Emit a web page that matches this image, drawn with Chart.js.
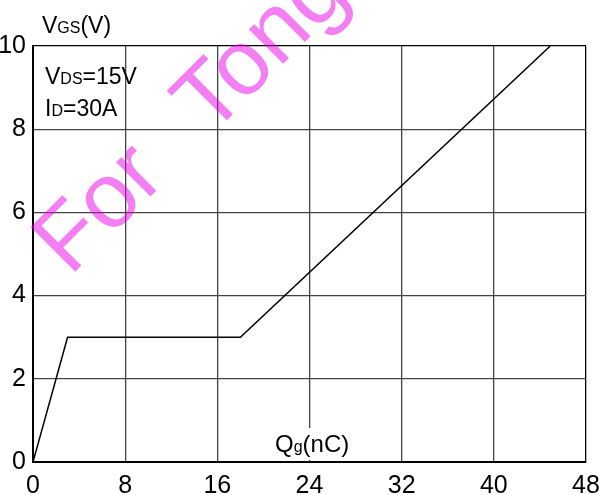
<!DOCTYPE html>
<html><head><meta charset="utf-8">
<script src="https://cdn.jsdelivr.net/npm/chart.js@4/dist/chart.umd.min.js"></script>
<style>html,body{margin:0;padding:0;background:#fff}</style>
</head><body>
<canvas id="c" width="599" height="495" style="width:599px;height:495px;display:block"></canvas>
<script>
const qg = [0, 3, 18, 44.9];
const vgs = [0, 3, 3, 10];
const xTicks = [0, 8, 16, 24, 32, 40, 48];
const yTicks = [0, 2, 4, 6, 8, 10];
const xTitle = ['Q', 'g', '(nC)'];
const yTitle = ['V', 'GS', '(V)'];
const note1 = ['V', 'DS', '=15V'];
const note2 = ['I', 'D', '=30A'];
const watermark = ['For', 'Tong'];

const TICKFONT = '"Liberation Sans Narrow","Liberation Sans",Arial,sans-serif';
const FONT = '"Liberation Sans",Arial,sans-serif';

function drawSub(ctx, parts, x, y, big, small) {
  ctx.font = big + 'px ' + FONT;
  ctx.fillText(parts[0], x, y);
  x += ctx.measureText(parts[0]).width;
  ctx.font = small + 'px ' + FONT;
  ctx.fillText(parts[1], x, y);
  x += ctx.measureText(parts[1]).width;
  ctx.font = big + 'px ' + FONT;
  ctx.fillText(parts[2], x, y);
  return x + ctx.measureText(parts[2]).width;
}

const textPlugin = {
  id: 'texts',
  afterDraw(chart) {
    const ctx = chart.ctx;
    ctx.save();
    ctx.fillStyle = '#000';
    ctx.textBaseline = 'alphabetic';
    ctx.textAlign = 'left';
    drawSub(ctx, yTitle, 42, 33, 23, 16);
    drawSub(ctx, note1, 45, 84, 23, 16);
    drawSub(ctx, note2, 45, 116, 23, 16);
    // x title with white box
    ctx.fillStyle = '#fff';
    ctx.fillRect(270, 428, 92, 32);
    ctx.fillStyle = '#000';
    drawSub(ctx, xTitle, 275, 452, 24, 16);
    // watermark
    ctx.translate(70, 277);
    ctx.rotate(-45 * Math.PI / 180);
    ctx.fillStyle = 'rgba(232,0,232,0.5)';
    ctx.font = '92px ' + FONT;
    ctx.fillText(watermark[0], 0, 0);
    ctx.fillText(watermark[1], 198, 0);
    ctx.restore();
  }
};

const edgeColor = (max) => (c) => (c.tick && c.tick.value === max) ? '#000' : '#444';

new Chart(document.getElementById('c'), {
  type: 'scatter',
  data: {
    datasets: [{
      data: qg.map((x, i) => ({x: x, y: vgs[i]})),
      showLine: true,
      borderColor: '#000',
      borderWidth: 1.5,
      pointRadius: 0,
      fill: false,
      tension: 0
    }]
  },
  options: {
    responsive: false,
    animation: false,
    devicePixelRatio: 1,
    layout: {padding: {top: 46, right: 13, left: 0, bottom: 0}},
    plugins: {legend: {display: false}, tooltip: {enabled: false}},
    scales: {
      x: {
        type: 'linear', min: 0, max: 48,
        afterBuildTicks: (s) => { s.ticks = xTicks.map(v => ({value: v})); },
        afterFit: (s) => { s.height = 33; s.paddingLeft = 0; s.paddingRight = 0; },
        grid: {color: edgeColor(48), lineWidth: 1.3, drawTicks: false},
        border: {display: true, color: '#000', width: 2},
        ticks: {color: '#000', padding: 9, font: {family: TICKFONT, size: 25}, maxRotation: 0, autoSkip: false}
      },
      y: {
        type: 'linear', min: 0, max: 10,
        afterBuildTicks: (s) => { s.ticks = yTicks.map(v => ({value: v})); },
        afterFit: (s) => { s.width = 33; s.paddingTop = 0; s.paddingBottom = 0; },
        grid: {color: edgeColor(10), lineWidth: 1.3, drawTicks: false},
        border: {display: true, color: '#000', width: 2},
        ticks: {color: '#000', padding: 7, font: {family: TICKFONT, size: 25}, autoSkip: false}
      }
    }
  },
  plugins: [textPlugin]
});
</script>
</body></html>
